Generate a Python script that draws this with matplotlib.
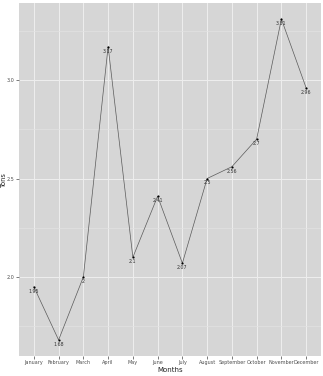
import numpy as np
import matplotlib
matplotlib.use("Agg")
import matplotlib.pyplot as plt
from matplotlib.ticker import MultipleLocator

months = ["January", "February", "March", "April", "May", "June", "July",
          "August", "September", "October", "November", "December"]
tons = [1.95, 1.68, 2.0, 3.17, 2.1, 2.41, 2.07, 2.5, 2.56, 2.7, 3.31, 2.96]
labels = ["1.95", "1.68", "2", "3.17", "2.1", "2.41", "2.07", "2.5", "2.56", "2.7", "3.31", "2.96"]

fig = plt.figure(figsize=(3.23, 3.76), dpi=100)
ax = fig.add_axes([19/323, 20/376, 302/323, 353/376])
ax.set_facecolor("#D6D6D6")

x = np.arange(len(months))
ax.plot(x, tons, color="#5A5A5A", lw=0.5, zorder=3)
ax.scatter(x, tons, color="black", s=2.5, zorder=4, linewidths=0)
for xi, yi, lab in zip(x, tons, labels):
    ax.text(xi, yi - 0.01, lab, fontsize=3.4, ha="center", va="top", color="#333333", zorder=5)

# ggplot-style expansion
lo, hi = min(tons), max(tons)
pad = (hi - lo) * 0.05
ax.set_ylim(lo - pad, hi + pad)
ax.set_xlim(-0.6, len(months) - 0.4)

ax.set_xticks(x)
ax.set_xticklabels(months)
ax.yaxis.set_major_locator(MultipleLocator(0.5))
ax.yaxis.set_minor_locator(MultipleLocator(0.25))
ax.yaxis.set_major_formatter(matplotlib.ticker.FormatStrFormatter("%.1f"))

ax.grid(which="major", color="#EEEEEE", lw=0.7)
ax.grid(which="minor", axis="y", color="#E2E2E2", lw=0.5)
ax.set_axisbelow(True)
for s in ax.spines.values():
    s.set_visible(False)
ax.tick_params(axis="both", which="major", labelsize=3.5, length=2, width=0.5,
               color="#444444", labelcolor="#4D4D4D", pad=1.2)
ax.tick_params(axis="y", which="minor", length=0)

ax.set_xlabel("Months", fontsize=5, labelpad=1, color="#222222")
ax.set_ylabel("Tons", fontsize=4.8, color="#222222", va="center")
ax.yaxis.set_label_coords(-15.5/302, 0.5)

fig.savefig("out.png", dpi=100)
